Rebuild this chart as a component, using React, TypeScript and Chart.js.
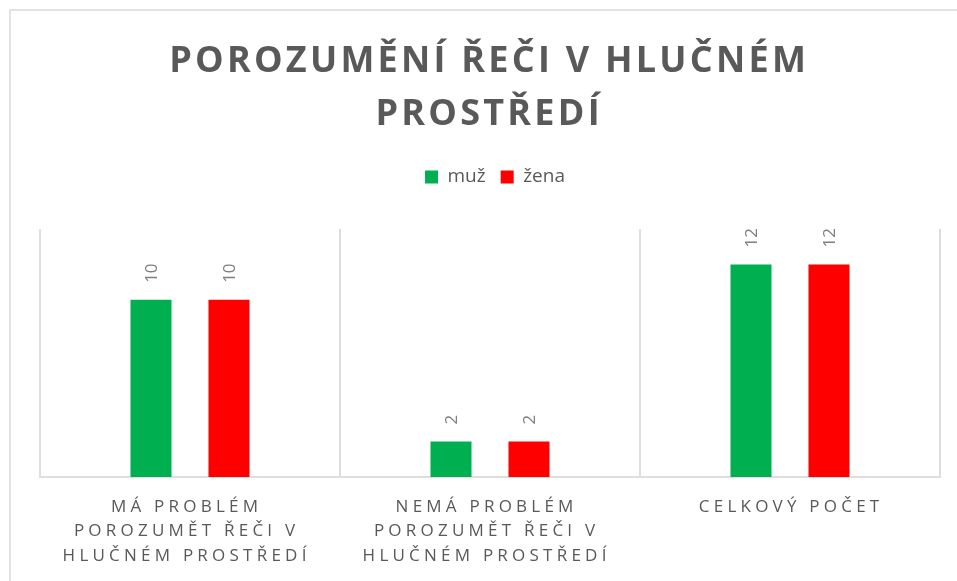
import React, { useEffect, useRef } from "react";
import { Chart, registerables } from "chart.js";

Chart.register(...registerables);

const titleLines = ["POROZUMĚNÍ ŘEČI V HLUČNÉM", "PROSTŘEDÍ"];
const categories = [
  ["MÁ PROBLÉM", "POROZUMĚT ŘEČI V", "HLUČNÉM PROSTŘEDÍ"],
  ["NEMÁ PROBLÉM", "POROZUMĚT ŘEČI V", "HLUČNÉM PROSTŘEDÍ"],
  ["CELKOVÝ POČET"],
];
const seriesNames = ["muž", "žena"];
const muzValues = [10, 2, 12];
const zenaValues = [10, 2, 12];
const seriesColors = ["#00B050", "#FF0000"];
const yMin = 0;
const yMax = 14;

const FONT = '"Open Sans", "Noto Sans", sans-serif';
const TEXT_GRAY = "#595959";
const LABEL_GRAY = "#7f7f7f";

const decorPlugin = {
  id: "decor",
  afterLayout(chart: any) {
    if (chart.legend) {
      chart.legend.left += 5;
      chart.legend.right += 5;
    }
  },
  afterDatasetsDraw(chart: any) {
    const ctx = chart.ctx as CanvasRenderingContext2D;
    ctx.save();
    ctx.font = `17px ${FONT}`;
    ctx.fillStyle = LABEL_GRAY;
    ctx.textAlign = "left";
    ctx.textBaseline = "alphabetic";
    chart.data.datasets.forEach((ds: any, di: number) => {
      const meta = chart.getDatasetMeta(di);
      meta.data.forEach((bar: any, i: number) => {
        ctx.save();
        ctx.translate(bar.x + 6, bar.y - 17);
        ctx.rotate(-Math.PI / 2);
        ctx.fillText(String(ds.data[i]), 0, 0);
        ctx.restore();
      });
    });
    ctx.restore();
  },
  afterDraw(chart: any) {
    const ctx = chart.ctx as CanvasRenderingContext2D & { letterSpacing?: string };
    const cx = chart.width / 2;
    ctx.save();
    ctx.fillStyle = TEXT_GRAY;
    ctx.textAlign = "center";
    ctx.textBaseline = "alphabetic";

    // Title
    ctx.font = `bold 36px ${FONT}`;
    ctx.letterSpacing = "0px";
    const w0 = ctx.measureText(titleLines[0]).width;
    const tls = Math.max(0, (640 - w0) / titleLines[0].length);
    ctx.letterSpacing = `${tls}px`;
    const titleBaselines = [61, 114];
    titleLines.forEach((line, i) => {
      ctx.fillText(line, cx + tls / 2 - 2, titleBaselines[i]);
    });

    // Category labels
    const xScale = chart.scales.x;
    const bottom = chart.chartArea.bottom;
    ctx.font = `17px ${FONT}`;
    ctx.letterSpacing = "0px";
    const ref = categories[0][2];
    const lw0 = ctx.measureText(ref).width;
    const lls = Math.max(0, (248 - lw0) / ref.length);
    ctx.letterSpacing = `${lls}px`;
    const offsets = [35, 59, 84];
    categories.forEach((lines, ci) => {
      const x = xScale.getPixelForValue(ci) + lls / 2 - (lines.length > 1 ? 5.5 : 1);
      lines.forEach((line, li) => {
        ctx.fillText(line, x, bottom + offsets[li]);
      });
    });
    ctx.restore();
  },
};

export default function App() {
  const canvasRef = useRef<HTMLCanvasElement | null>(null);

  useEffect(() => {
    const canvas = canvasRef.current;
    if (!canvas) return;
    const chart = new Chart(canvas, {
      type: "bar",
      data: {
        labels: categories.map((c) => c.join(" ")),
        datasets: [
          {
            label: seriesNames[0],
            data: muzValues,
            backgroundColor: seriesColors[0],
            borderWidth: 0,
            categoryPercentage: 0.52,
            barPercentage: 0.526,
            xAxisID: "x",
            yAxisID: "y",
          },
          {
            label: seriesNames[1],
            data: zenaValues,
            backgroundColor: seriesColors[1],
            borderWidth: 0,
            categoryPercentage: 0.52,
            barPercentage: 0.526,
            xAxisID: "x",
            yAxisID: "y",
          },
        ],
      },
      options: {
        responsive: false,
        animation: false,
        layout: { padding: { top: 141.5, left: 29, right: 28, bottom: 114 } },
        scales: {
          x: {
            grid: { offset: true, drawTicks: false, color: "#dedede", lineWidth: 2 },
            border: { color: "#dedede", width: 2 },
            ticks: { display: false },
          },
          spacer: {
            type: "category",
            position: "top",
            grid: { display: false },
            border: { display: false },
            ticks: { display: false },
            afterFit(scale: any) {
              scale.height = 32.5;
            },
          },
          y: { display: false, min: yMin, max: yMax },
        },
        plugins: {
          title: { display: false },
          tooltip: { enabled: false },
          legend: {
            display: true,
            position: "top",
            labels: {
              boxWidth: 13,
              boxHeight: 13,
              padding: 15,
              color: TEXT_GRAY,
              font: { family: FONT, size: 19 },
            },
          },
        },
      } as any,
      plugins: [decorPlugin],
    });
    return () => chart.destroy();
  }, []);

  return (
    <div
      style={{
        position: "fixed",
        left: 9,
        top: 9,
        width: 1000,
        height: 620,
        borderLeft: "2px solid #e3e3e3",
        borderTop: "2px solid #e3e3e3",
        background: "#fff",
      }}
    >
      <canvas
        ref={canvasRef}
        width={957}
        height={580}
        style={{ display: "block", width: 957, height: 580 }}
      />
    </div>
  );
}
